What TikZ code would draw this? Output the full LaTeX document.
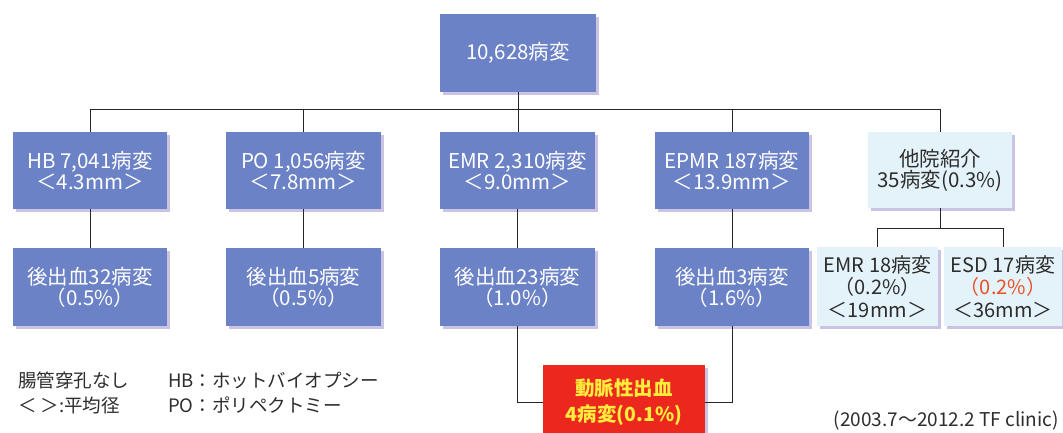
\documentclass[tikz,border=0pt]{standalone}
\usepackage{fontspec}
\setmainfont{Noto Sans CJK JP}
\usetikzlibrary{shadows}
\definecolor{boxblue}{RGB}{108,130,198}
\definecolor{boxlight}{RGB}{228,242,249}
\definecolor{shade}{RGB}{190,180,220}
\definecolor{redbox}{RGB}{236,40,30}
\definecolor{yel}{RGB}{255,236,60}
\definecolor{txt}{RGB}{45,45,45}
\definecolor{esdred}{RGB}{235,80,40}
\tikzset{
  base/.style={inner sep=0pt, align=center, font=\fontsize{20.5}{21}\selectfont,
    drop shadow={shadow xshift=2.5pt, shadow yshift=-2.5pt, fill=shade, opacity=0.8}},
  bluebox/.style={base, fill=boxblue, text=white},
  lightbox/.style={base, fill=boxlight, text=txt},
  rednode/.style={base, fill=redbox, text=yel, font=\fontsize{19.5}{26}\selectfont\bfseries},
  link/.style={draw=black!85, line width=0.8pt},
  legend/.style={inner sep=0pt, anchor=west, text=txt, font=\fontsize{18.5}{20}\selectfont},
}
\begin{document}
\begin{tikzpicture}[x=1pt,y=-1pt]
\useasboundingbox[fill=white] (0,0) rectangle (1063,432);
% top
\node[bluebox, minimum width=156pt, minimum height=78pt] (top) at (518,53) {10,628病変};
% row 1
\node[bluebox, minimum width=154pt, minimum height=77pt] (hb) at (90,170.5) {HB 7,041病変\\＜4.3mm＞};
\node[bluebox, minimum width=155pt, minimum height=77pt] (po) at (303.5,170.5) {PO 1,056病変\\＜7.8mm＞};
\node[bluebox, minimum width=155pt, minimum height=77pt] (emr) at (517.5,170.5) {EMR 2,310病変\\＜9.0mm＞};
\node[bluebox, minimum width=154pt, minimum height=77pt] (epmr) at (732,170.5) {EPMR 187病変\\＜13.9mm＞};
\node[lightbox, minimum width=144pt, minimum height=76pt] (other) at (940,170) {他院紹介\\35病変(0.3\%)};
% row 2
\node[bluebox, minimum width=154pt, minimum height=78pt] (hbb) at (90,287) {後出血32病変\\（0.5\%）};
\node[bluebox, minimum width=155pt, minimum height=78pt] (pob) at (303.5,287) {後出血5病変\\（0.5\%）};
\node[bluebox, minimum width=155pt, minimum height=78pt] (emrb) at (517.5,287) {後出血23病変\\（1.0\%）};
\node[bluebox, minimum width=154pt, minimum height=78pt] (epmrb) at (732,287) {後出血3病変\\（1.6\%）};
\node[lightbox, minimum width=121pt, minimum height=79pt, font=\fontsize{20}{22.5}\selectfont] (emrs) at (877.5,286.5) {EMR 18病変\\（0.2\%）\\＜19mm＞};
\node[lightbox, minimum width=118pt, minimum height=79pt, font=\fontsize{20}{22.5}\selectfont] (esd) at (1003,286.5) {ESD 17病変\\\textcolor{esdred}{（0.2\%）}\\＜36mm＞};
% red
\node[rednode, minimum width=162pt, minimum height=74pt] (red) at (624,402) {動脈性出血\\4病変(0.1\%)};
% connectors
\draw[link] (top.south) -- (top.south |- emr.north);
\draw[link] (hb.north) -- ++(0,-22) -| (other.north);
\draw[link] (po.north) -- ++(0,-22);
\draw[link] (epmr.north) -- ++(0,-22);
\draw[link] (hb.south) -- (hbb.north);
\draw[link] (po.south) -- (pob.north);
\draw[link] (emr.south) -- (emrb.north);
\draw[link] (epmr.south) -- (epmrb.north);
\draw[link] (other.south) -- ++(0,20) coordinate (br);
\draw[link] (emrs.north) |- (br) -| (esd.north);
\draw[link] (emrb.south) |- (red.west);
\draw[link] (epmrb.south) |- (red.east);
% legend
\node[legend] (l1) at (18,380) {腸管穿孔なし};
\node[legend] (l2) at (18,405) {＜ ＞:平均径};
\node[legend] (l3) at (168,380) {HB：ホットバイオプシー};
\node[legend] (l4) at (168,405) {PO：ポリペクトミー};
\node[inner sep=0pt, anchor=east, text=txt, font=\fontsize{19}{20}\selectfont] (foot) at (1059,421) {(2003.7〜2012.2 TF clinic)};
\end{tikzpicture}
\end{document}
